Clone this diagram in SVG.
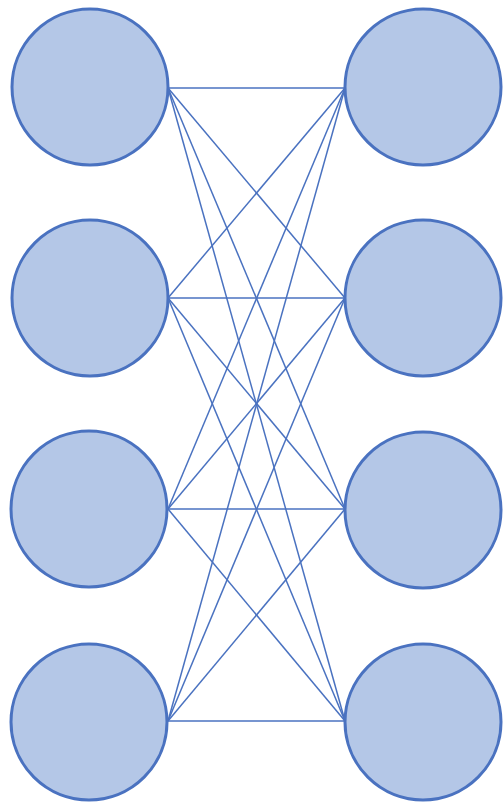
<svg xmlns="http://www.w3.org/2000/svg" width="503" height="803" viewBox="0 0 503 803">
<style>
.n{fill:#b4c7e7;stroke:#4a72c0;stroke-width:3}
.e line{stroke:#4a72c0;stroke-width:1.5}
</style>
<rect width="503" height="803" fill="#ffffff"/>
<g id="connectors" class="e">
<line x1="168" y1="88" x2="345" y2="88"/>
<line x1="168" y1="88" x2="345" y2="298"/>
<line x1="168" y1="88" x2="345" y2="509"/>
<line x1="168" y1="88" x2="345" y2="721"/>
<line x1="168" y1="298" x2="345" y2="88"/>
<line x1="168" y1="298" x2="345" y2="298"/>
<line x1="168" y1="298" x2="345" y2="509"/>
<line x1="168" y1="298" x2="345" y2="721"/>
<line x1="168" y1="509" x2="345" y2="88"/>
<line x1="168" y1="509" x2="345" y2="298"/>
<line x1="168" y1="509" x2="345" y2="509"/>
<line x1="168" y1="509" x2="345" y2="721"/>
<line x1="168" y1="721" x2="345" y2="88"/>
<line x1="168" y1="721" x2="345" y2="298"/>
<line x1="168" y1="721" x2="345" y2="509"/>
<line x1="168" y1="721" x2="345" y2="721"/>
</g>
<g id="l1"><circle class="n" cx="90" cy="87" r="78"/></g>
<g id="l2"><circle class="n" cx="90" cy="298" r="78"/></g>
<g id="l3"><circle class="n" cx="89" cy="509" r="78"/></g>
<g id="l4"><circle class="n" cx="89" cy="722" r="78"/></g>
<g id="r1"><circle class="n" cx="423" cy="87" r="78"/></g>
<g id="r2"><circle class="n" cx="423" cy="298" r="78"/></g>
<g id="r3"><circle class="n" cx="423" cy="510" r="78"/></g>
<g id="r4"><circle class="n" cx="423" cy="722" r="78"/></g>
</svg>
